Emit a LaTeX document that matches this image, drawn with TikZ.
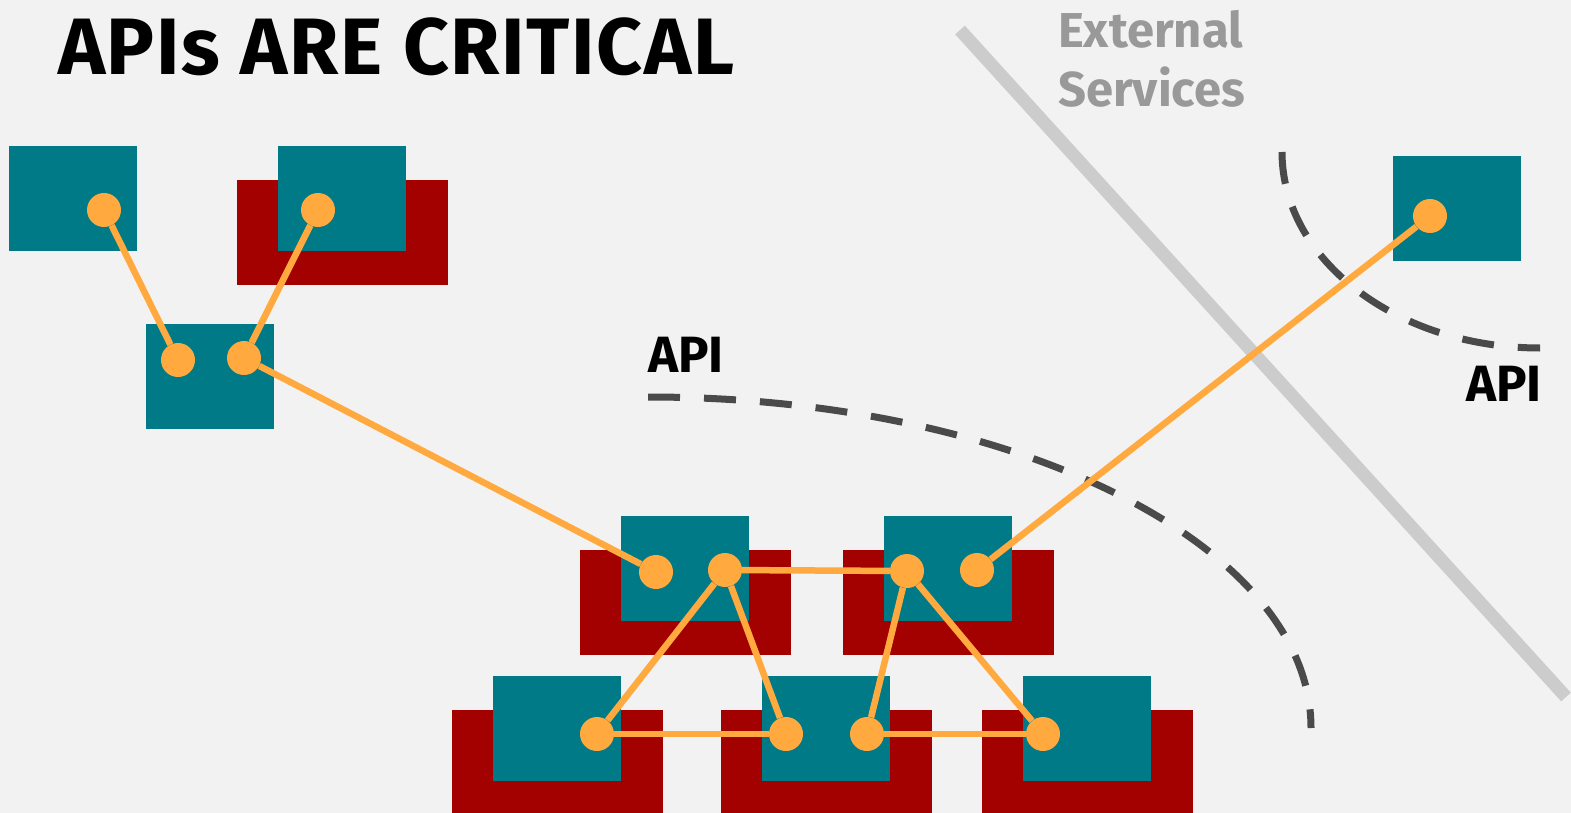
\documentclass[tikz,border=0pt]{standalone}
\usepackage{fontspec}
\setmainfont{Fira Sans}
\newfontfamily\titlefont[LetterSpace=2]{Fira Sans}
\usetikzlibrary{positioning}
\definecolor{bgGray}{HTML}{F2F2F2}
\definecolor{svcTeal}{HTML}{007A87}
\definecolor{svcRed}{HTML}{A30000}
\definecolor{apiOrange}{HTML}{FFA93F}
\definecolor{dashGray}{HTML}{4A4A4A}
\definecolor{wallGray}{HTML}{CCCCCC}
\definecolor{textGray}{HTML}{999999}
\tikzset{
    objTeal/.style={rectangle, fill=svcTeal, minimum width=128pt, minimum height=105pt, inner sep=0pt},
    objRed/.style={rectangle, fill=svcRed, minimum width=211pt, minimum height=105pt, inner sep=0pt, yshift=-34pt},
    objDot/.style={circle, fill=apiOrange, minimum size=34pt, inner sep=0pt},
    link/.style={apiOrange, line width=6.5pt},
    apiBoundary/.style={dashGray, line width=7pt, dash pattern=on 32pt off 24pt},
    apiLabel/.style={font=\fontsize{51}{60}\selectfont\bfseries, inner sep=0pt}
}

\begin{document}
\begin{tikzpicture}[x=1pt, y=-1pt]
  \clip (0,0) rectangle (1571,813);
  \fill[bgGray] (0,0) rectangle (1571,813);

  % title and boundary
  \node (title) [font=\titlefont\fontsize{80}{90}\selectfont\bfseries, anchor=base west, inner sep=0pt] at (58,75) {APIs ARE CRITICAL};
  \draw[wallGray, line width=13pt] (960,30) -- (1566,697);
  \node (ext) [font=\fontsize{49}{59}\selectfont\bfseries, text=textGray, anchor=base west, inner sep=0pt, align=left] at (1058,107) {External\\Services};

  % api borders
  \draw[apiBoundary] (648,397) arc[start angle=-90, end angle=0, x radius=663, y radius=331];
  \draw[apiBoundary] (1282,152) arc[start angle=180, end angle=90, x radius=258, y radius=196];
  \node (api1) [apiLabel, anchor=base west] at (648,372) {API};
  \node (api2) [apiLabel, anchor=base east] at (1542,401) {API};

  % services
  \node (redB) [objRed] at (342,198.5) {};
  \node (redD) [objRed] at (685,568.5) {};
  \node (redE) [objRed] at (948,568.5) {};
  \node (redF) [objRed] at (557,728.5) {};
  \node (redG) [objRed] at (826,728.5) {};
  \node (redH) [objRed] at (1087,728.5) {};

  \node (svcA) [objTeal] at (73,198.5) {};
  \node (svcB) [objTeal] at (342,198.5) {};
  \node (svcC) [objTeal] at (210,376.5) {};
  \node (svcD) [objTeal] at (685,568.5) {};
  \node (svcE) [objTeal] at (948,568.5) {};
  \node (svcF) [objTeal] at (557,728.5) {};
  \node (svcG) [objTeal] at (826,728.5) {};
  \node (svcH) [objTeal] at (1087,728.5) {};
  \node (svcI) [objTeal] at (1457,208.5) {};

  % endpoints
  \node (dA) [objDot] at (104,210) {};
  \node (dB) [objDot] at (318,210) {};
  \node (dC1) [objDot] at (178,360) {};
  \node (dC2) [objDot] at (244,358) {};
  \node (dD1) [objDot] at (656,572) {};
  \node (dD2) [objDot] at (725,570) {};
  \node (dE1) [objDot] at (907,571) {};
  \node (dE2) [objDot] at (977,570) {};
  \node (dF) [objDot] at (597,734) {};
  \node (dG1) [objDot] at (786,734) {};
  \node (dG2) [objDot] at (867,734) {};
  \node (dH) [objDot] at (1043,734) {};
  \node (dI) [objDot] at (1430,216) {};

  \draw[link] (dA) -- (dC1);
  \draw[link] (dB) -- (dC2);
  \draw[link] (dC2) -- (dD1);
  \draw[link] (dD2) -- (dE1);
  \draw[link] (dD2) -- (dF);
  \draw[link] (dD2) -- (dG1);
  \draw[link] (dE1) -- (dG2);
  \draw[link] (dE1) -- (dH);
  \draw[link] (dF) -- (dG1);
  \draw[link] (dG2) -- (dH);
  \draw[link] (dE2) -- (dI);
\end{tikzpicture}
\end{document}
